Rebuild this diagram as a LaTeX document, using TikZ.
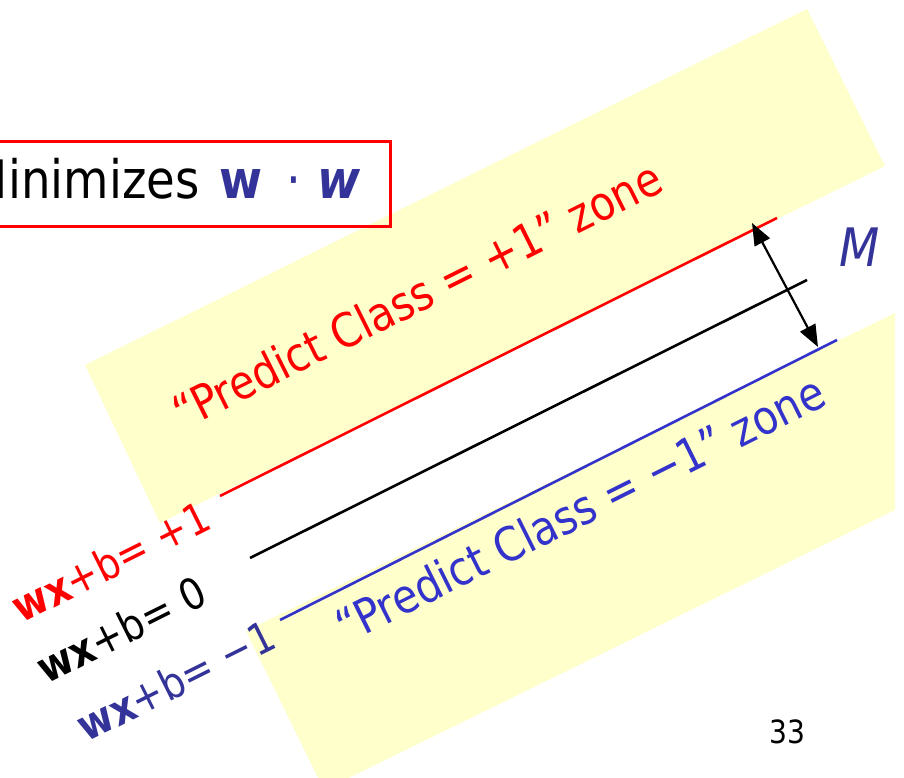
\documentclass[tikz,border=0pt]{standalone}
\usepackage{fontspec}
\setmainfont{DejaVu Sans}[FakeStretch=0.88]
\usetikzlibrary{arrows.meta}

\definecolor{zoneyellow}{HTML}{FFFFCC}
\definecolor{plusred}{HTML}{FF0000}
\definecolor{minusblue}{HTML}{3333CC}
\definecolor{navy}{HTML}{333399}

\tikzset{
  zone/.style={fill=zoneyellow, draw=none},
  boundary/.style={line width=2.6pt},
  zonetext/.style={rotate=26.5, anchor=base west, inner sep=0pt, font=\fontsize{47}{56}\selectfont},
  eqlabel/.style={rotate=26.5, anchor=base east, inner sep=0pt, font=\fontsize{43}{50}\selectfont},
  marginarrow/.style={>={Triangle[length=22pt,width=17pt]}, <->, line width=2.2pt}
}

\begin{document}
\begin{tikzpicture}[x=1pt,y=1pt]
  \useasboundingbox (0,0) rectangle (904,778);
  \clip (0,0) rectangle (904,778);

  % the two zones
  \fill[zone] (807,769) -- (885,612) -- (160,255) -- (85,413) -- cycle;
  \fill[zone] (246,147) -- (895,465) -- (895,268) -- (324,-12) -- cycle;

  % end points of the three planes
  \coordinate (plusA) at (220,282);
  \coordinate (plusB) at (777,560);
  \coordinate (zeroA) at (250,220);
  \coordinate (zeroB) at (807,498);
  \coordinate (minusA) at (280,158);
  \coordinate (minusB) at (837,438);
  \coordinate (mtop) at (752,555);
  \coordinate (mbot) at (818,431);

  \draw[boundary, plusred] (plusA) -- (plusB);
  \draw[boundary, black] (zeroA) -- (zeroB);
  \draw[boundary, minusblue] (minusA) -- (minusB);
  \draw[marginarrow] (mtop) -- (mbot);
  \node[text=navy, font=\fontsize{53}{60}\selectfont\itshape] (margin) at (860,531) {M};

  % labels
  \node[zonetext, text=plusred] (pluszone) at (183,347) {“Predict Class = +1” zone};
  \node[zonetext, text=minusblue] (minuszone) at (346,133) {“Predict Class = −1” zone};
  \node[eqlabel, text=plusred] (pluslabel) at (214,250) {\textbf{wx}+b= +1};
  \node[eqlabel, text=black] (zerolabel) at (210,175) {\textbf{wx}+b= 0};
  \node[eqlabel, text=navy] (minuslabel) at (279,131) {\textbf{wx}+b= −1};

  \node[draw=plusred, line width=3pt, anchor=east, minimum height=85pt, inner xsep=30pt,
        text depth=12pt, font=\fontsize{53}{60}\selectfont] (title) at (392,593.5)
        {Minimizes\hspace{0.1em} \textcolor{navy}{\textbf{w}\hspace{0.45em}·\hspace{0.3em}\textbf{\textit{w}}}};
  \node[font=\fontsize{32}{38}\selectfont] (pagenum) at (787,46) {33};
\end{tikzpicture}
\end{document}
